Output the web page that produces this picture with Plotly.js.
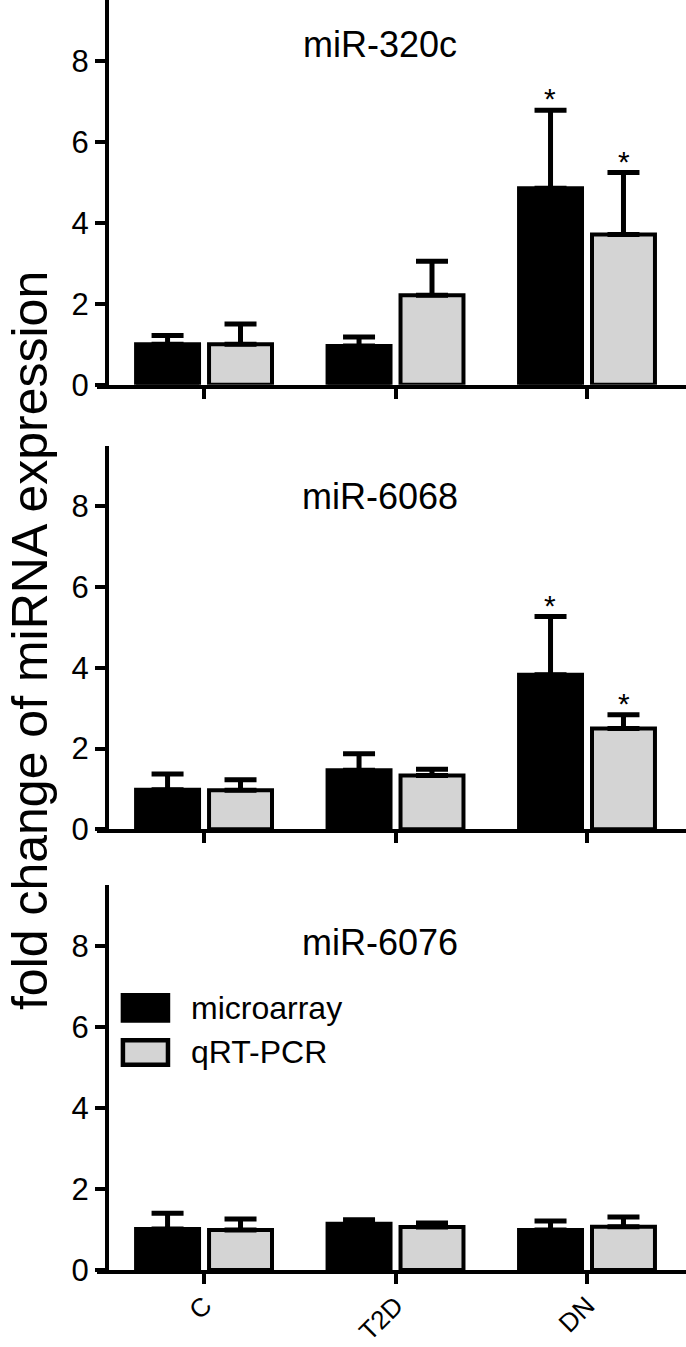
<!DOCTYPE html>
<html>
<head>
<meta charset="utf-8">
<script src="https://cdn.plot.ly/plotly-3.0.1.min.js"></script>
<style>
  html, body { margin: 0; padding: 0; background: #fff; }
  #plot { width: 686px; height: 1347px; }
</style>
</head>
<body>
<div id="plot"></div>
<script>
// data
const groups = ["C", "T2D", "DN"]
const panelNames = ["miR-320c", "miR-6068", "miR-6076"]
const seriesNames = ["microarray", "qRT-PCR"]

// miR-320c
const mir320cArray = [1.0, 0.96, 4.85]
const mir320cArrayErr = [0.22, 0.22, 1.93]
const mir320cPcr = [1.0, 2.21, 3.71]
const mir320cPcrErr = [0.5, 0.84, 1.53]

// miR-6068
const mir6068Array = [0.98, 1.46, 3.83]
const mir6068ArrayErr = [0.39, 0.41, 1.44]
const mir6068Pcr = [0.97, 1.33, 2.5]
const mir6068PcrErr = [0.26, 0.16, 0.34]

// miR-6076
const mir6076Array = [1.01, 1.14, 0.99]
const mir6076ArrayErr = [0.39, 0.10, 0.22]
const mir6076Pcr = [0.99, 1.06, 1.07]
const mir6076PcrErr = [0.27, 0.10, 0.24]

// significance marks: [panel, group, series]
const stars = [[0, "DN", 0], [0, "DN", 1], [1, "DN", 0], [1, "DN", 1]]

const panels = [
  [mir320cArray, mir320cArrayErr, mir320cPcr, mir320cPcrErr],
  [mir6068Array, mir6068ArrayErr, mir6068Pcr, mir6068PcrErr],
  [mir6076Array, mir6076ArrayErr, mir6076Pcr, mir6076PcrErr]
]

const fnt = "Arial, 'Liberation Sans', sans-serif"
const colors = ["#000000", "#d4d4d4"]
const lw = 4

let traces = []
panels.forEach(function (p, i) {
  let ax = i === 0 ? "" : String(i + 1)
  for (let s = 0; s < 2; s++) {
    traces.push({
      type: "bar",
      x: groups,
      y: p[s * 2],
      name: seriesNames[s],
      xaxis: "x" + ax,
      yaxis: "y" + ax,
      showlegend: false,
      marker: { color: colors[s], line: { color: "#000", width: 4 } },
      error_y: {
        type: "data",
        symmetric: false,
        array: p[s * 2 + 1],
        arrayminus: [0, 0, 0],
        color: "#000",
        thickness: 5,
        width: 16
      },
      hoverinfo: "none"
    })
  }
})

// panel domains (bottom up)
const yDomains = [[0.697, 1], [0.347, 0.649], [0, 0.303]]

let layout = {
  width: 686,
  height: 1347,
  margin: { l: 97, r: 0, t: 0, b: 77 },
  paper_bgcolor: "#fff",
  plot_bgcolor: "#fff",
  barmode: "group",
  bargap: 0.238,
  bargroupgap: 0.137,
  font: { family: fnt, color: "#000" },
  annotations: [],
  shapes: []
}

for (let i = 0; i < 3; i++) {
  let ax = i === 0 ? "" : String(i + 1)
  layout["xaxis" + ax] = {
    type: "category",
    domain: [0, 1],
    anchor: "y" + ax,
    range: [-0.559, 2.517],
    showline: true,
    linecolor: "#000",
    linewidth: lw,
    ticks: "outside",
    ticklen: 10,
    tickwidth: lw,
    tickcolor: "#000",
    showgrid: false,
    zeroline: false,
    showticklabels: i === 2,
    tickangle: -45,
    ticklabelstandoff: -4,
    tickfont: { family: fnt, size: 26, color: "#000" }
  }
  layout["yaxis" + ax] = {
    domain: yDomains[i],
    anchor: "free",
    position: 0.017,
    range: [0, 9.5],
    tickvals: [0, 2, 4, 6, 8],
    showline: true,
    linecolor: "#000",
    linewidth: lw,
    ticks: "outside",
    ticklen: 10,
    tickwidth: lw,
    tickcolor: "#000",
    showgrid: false,
    zeroline: false,
    tickfont: { family: fnt, size: 31, color: "#000" }
  }
}

// panel titles
const titleY = [0.9646, 0.6087, 0.2575]
panelNames.forEach(function (t, i) {
  layout.annotations.push({
    text: t, xref: "paper", yref: "paper", x: 0.4805, y: titleY[i],
    xanchor: "center", yanchor: "middle", showarrow: false,
    font: { family: fnt, size: 36, color: "#000" }
  })
})

// stars above error caps
stars.forEach(function (st) {
  let p = panels[st[0]]
  let gi = groups.indexOf(st[1])
  let top = p[st[2] * 2][gi] + p[st[2] * 2 + 1][gi]
  let ax = st[0] === 0 ? "" : String(st[0] + 1)
  layout.annotations.push({
    text: "*", xref: "x" + ax, yref: "y" + ax, x: st[1], y: top,
    xshift: st[2] === 0 ? -37 : 37, yshift: -7,
    xanchor: "center", yanchor: "bottom", showarrow: false,
    font: { family: fnt, size: 30, color: "#000" }
  })
})

// y axis title
layout.annotations.push({
  text: "fold change of miRNA expression", xref: "paper", yref: "paper",
  x: -0.1647, y: 0.496, textangle: -90, xanchor: "left", yanchor: "middle",
  showarrow: false, font: { family: fnt, size: 50, color: "#000" }
})

// legend box inside bottom panel
const legY = [[6.16, 6.78], [5.07, 5.67]]
seriesNames.forEach(function (n, s) {
  layout.shapes.push({
    type: "rect", xref: "paper", yref: "y3",
    x0: 0.044, x1: 0.1205, y0: legY[s][0], y1: legY[s][1],
    fillcolor: colors[s], line: { color: "#000", width: 4.5 }
  })
  layout.annotations.push({
    text: n, xref: "paper", yref: "y3", x: 0.156,
    y: (legY[s][0] + legY[s][1]) / 2,
    xanchor: "left", yanchor: "middle", showarrow: false,
    font: { family: fnt, size: 32, color: "#000" }
  })
})

Plotly.newPlot("plot", traces, layout, { staticPlot: true, displayModeBar: false })
</script>
</body>
</html>
